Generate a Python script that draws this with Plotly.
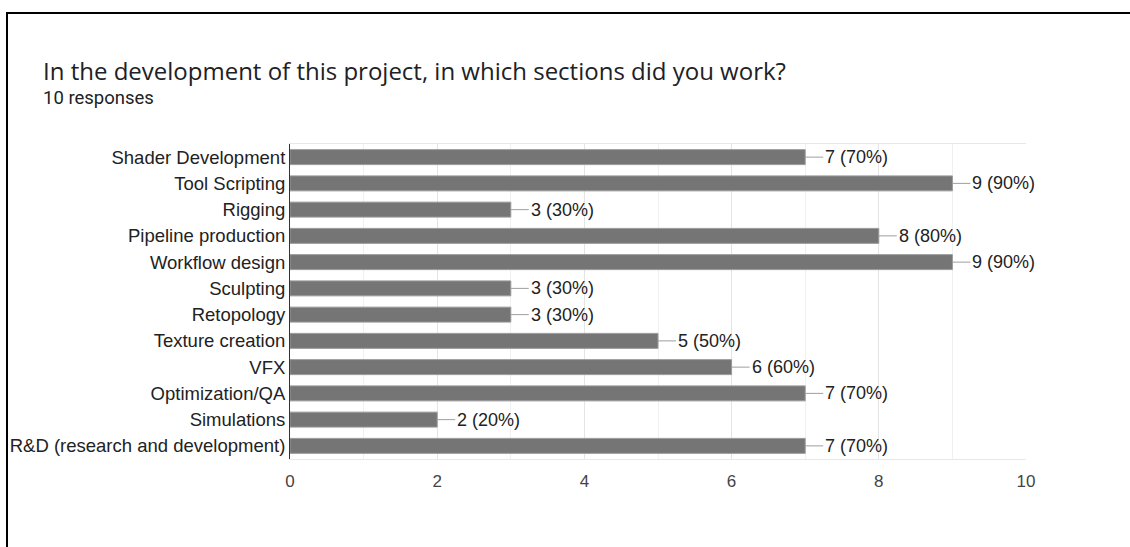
import plotly.graph_objects as go

categories = [
    "Shader Development", "Tool Scripting", "Rigging", "Pipeline production",
    "Workflow design", "Sculpting", "Retopology", "Texture creation", "VFX",
    "Optimization/QA", "Simulations", "R&D (research and development)",
]
counts = [7, 9, 3, 8, 9, 3, 3, 5, 6, 7, 2, 7]
total_responses = 10
x_ticks = [0, 2, 4, 6, 8, 10]

title_text = "In the development of this project, in which sections did you work?"
subtitle_text = f"{total_responses} responses"

labels = [f"{c} ({round(c * 100 / total_responses)}%)" for c in counts]

fig = go.Figure()
fig.add_trace(go.Bar(
    x=counts, y=categories, orientation="h",
    marker=dict(color="#757575", line=dict(color="#9a9a9a", width=1)),
    hoverinfo="skip",
))

shapes = []
annotations = []
for cat, c, lab in zip(categories, counts, labels):
    shapes.append(dict(type="line", xref="x", yref="y", xsizemode="pixel",
                       xanchor=c, x0=0, x1=18, y0=cat, y1=cat,
                       line=dict(color="#9e9e9e", width=1)))
    annotations.append(dict(x=c, y=cat, xref="x", yref="y", text=lab,
                            showarrow=False, xanchor="left", yanchor="middle",
                            xshift=18,
                            font=dict(family="Liberation Sans, Arial", size=18, color="#222222")))

# outer frame
shapes.append(dict(type="rect", xref="paper", yref="paper",
                   x0=(7 - 290) / 736, x1=(1140 - 290) / 736,
                   y0=(459 - 560) / 315, y1=(459 - 13) / 315,
                   line=dict(color="black", width=2), fillcolor="rgba(0,0,0,0)", layer="above"))

annotations.append(dict(x=(41 - 290) / 736, y=(459 - 71) / 315, xref="paper", yref="paper",
                        text=title_text, showarrow=False, xanchor="left", yanchor="middle",
                        font=dict(family="Open Sans", size=24, color="#202124")))
annotations.append(dict(x=(41 - 290) / 736, y=(459 - 97.5) / 315, xref="paper", yref="paper",
                        text=subtitle_text, showarrow=False, xanchor="left", yanchor="middle",
                        font=dict(family="Roboto", size=18.5, color="#202124")))

fig.update_layout(
    width=1130, height=547,
    margin=dict(l=290, r=104, t=144, b=88, autoexpand=False),
    paper_bgcolor="white", plot_bgcolor="white",
    showlegend=False, bargap=0.43,
    shapes=shapes, annotations=annotations,
    xaxis=dict(range=[0, 10], tickvals=x_ticks, showgrid=True, gridcolor="#e4e4e4",
               minor=dict(dtick=1, showgrid=True, gridcolor="#f0f0f0"),
               showline=True, mirror=True, linecolor="#e8e8e8", zeroline=False,
               ticks="outside", ticklen=7, tickcolor="rgba(0,0,0,0)", automargin=False,
               tickfont=dict(family="Liberation Sans, Arial", size=17, color="#444444")),
    yaxis=dict(autorange="reversed", showline=True, linecolor="#333333", linewidth=1,
               showgrid=False, ticks="", ticklabelstandoff=0, automargin=False,
               tickfont=dict(family="Liberation Sans, Arial", size=18.5, color="#222222")),
)

fig.write_html("out.html", config={"displayModeBar": False},
               post_script="document.body.style.margin='0';")
